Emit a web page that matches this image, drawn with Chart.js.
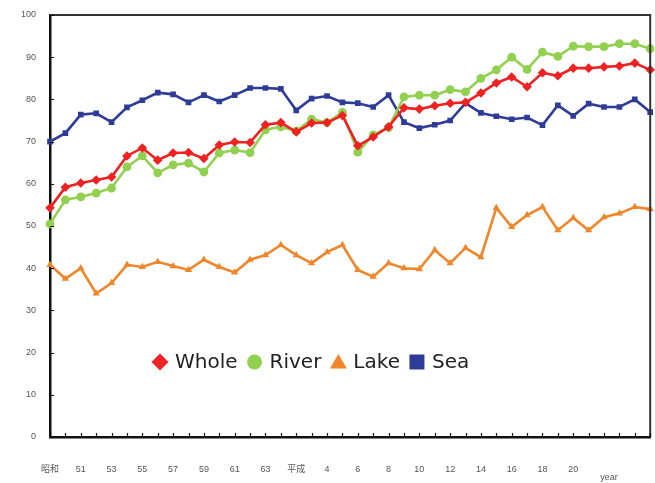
<!DOCTYPE html>
<html>
<head>
<meta charset="utf-8">
<script src="https://cdn.jsdelivr.net/npm/chart.js@4/dist/chart.umd.min.js"></script>
<style>
  html, body { margin: 0; padding: 0; background: #fff; }
  #wrap { width: 655px; height: 483px; }
</style>
</head>
<body>
<div id="wrap"><canvas id="c" width="655" height="483"></canvas></div>
<script>
// Years 昭和49 … 平成25, one category per year
const years = ['昭和','50','51','52','53','54','55','56','57','58','59','60','61','62','63','元',
  '平成','3','4','5','6','7','8','9','10','11','12','13','14','15','16','17','18','19','20','21','22','23','24','25'];
// Labels shown under the axis (every second year, up to 20)
const shownTicks = ['昭和','51','53','55','57','59','61','63','平成','4','6','8','10','12','14','16','18','20'];

const whole = [54.3,59.2,60.2,60.9,61.6,66.6,68.5,65.6,67.3,67.4,66.0,69.2,69.9,69.8,74.0,74.5,72.3,74.4,74.5,76.2,
  69.0,71.1,73.5,78.0,77.7,78.5,79.1,79.3,81.5,83.9,85.3,83.0,86.3,85.6,87.4,87.4,87.7,87.9,88.6,87.0];
const river = [50.5,56.2,56.9,57.8,59.0,64.0,66.6,62.6,64.5,64.9,62.8,67.3,68.0,67.4,72.8,73.5,72.5,75.3,74.5,76.9,
  67.5,71.6,73.3,80.6,81.0,81.0,82.3,81.8,85.0,87.0,90.0,87.1,91.2,90.2,92.6,92.5,92.5,93.2,93.2,92.0];
const lake = [40.8,37.5,40.0,34.0,36.5,40.8,40.3,41.5,40.5,39.6,42.0,40.3,39.0,42.0,43.1,45.5,43.1,41.2,43.8,45.5,
  39.6,38.0,41.2,40.0,39.8,44.3,41.2,44.8,42.6,54.3,49.8,52.6,54.5,49.0,51.9,49.0,52.1,53.0,54.5,54.0];
const sea = [70.0,72.0,76.4,76.7,74.6,78.1,79.8,81.6,81.2,79.3,81.0,79.5,81.0,82.7,82.7,82.5,77.4,80.2,80.8,79.3,
  79.1,78.2,81.0,74.6,73.2,74.0,75.0,79.1,76.8,76.0,75.3,75.7,73.9,78.6,76.1,79.0,78.2,78.2,80.0,77.0];

const seriesNames = ['Whole','River','Lake','Sea'];
const seriesColors = ['#ee2222','#92d050','#f0862a','#2e3c98'];
const seriesPoints = ['rectRot','circle','triangle','rect'];
const seriesValues = [whole, river, lake, sea];
const seriesRadius = [4.8, 4.4, 4.2, 4];

const datasets = seriesValues.map((vals, i) => ({
  label: seriesNames[i],
  data: vals,
  borderColor: seriesColors[i],
  backgroundColor: seriesColors[i],
  pointBackgroundColor: seriesColors[i],
  pointBorderColor: seriesColors[i],
  pointStyle: seriesPoints[i],
  pointRadius: seriesRadius[i],
  pointBorderWidth: 0,
  borderWidth: 2.6,
  tension: 0,
  fill: false
}));

// Frame, inner tick marks and the "year" caption
const framePlugin = {
  id: 'frame',
  afterDraw(chart) {
    const { ctx, chartArea: a, scales } = chart;
    ctx.save();
    ctx.strokeStyle = '#333';
    ctx.lineWidth = 2;
    ctx.beginPath();
    ctx.moveTo(a.left, a.top); ctx.lineTo(a.right, a.top); ctx.lineTo(a.right, a.bottom);
    ctx.stroke();
    ctx.strokeStyle = '#111';
    ctx.lineWidth = 1.2;
    ctx.beginPath();
    scales.y.ticks.forEach(t => {
      const y = Math.round(scales.y.getPixelForValue(t.value)) + 0.5;
      ctx.moveTo(a.left, y); ctx.lineTo(a.left + 4, y);
    });
    years.forEach((_, i) => {
      const x = Math.round(scales.x.getPixelForValue(i)) + 0.5;
      ctx.moveTo(x, a.bottom); ctx.lineTo(x, a.bottom - 4);
    });
    ctx.stroke();
    ctx.fillStyle = '#555';
    ctx.font = '9px "Liberation Sans", Arial, sans-serif';
    ctx.textAlign = 'center';
    ctx.textBaseline = 'middle';
    ctx.fillText('year', 609, 478);
    ctx.restore();
  }
};

// Legend drawn inside the plot area
const innerLegend = {
  id: 'innerLegend',
  afterDraw(chart) {
    const { ctx } = chart;
    ctx.save();
    ctx.font = '20px "DejaVu Sans", Verdana, sans-serif';
    ctx.textBaseline = 'middle';
    const cy = 362;
    let x = 152;
    seriesNames.forEach((name, i) => {
      const c = seriesColors[i];
      const mx = x + 8;
      ctx.fillStyle = c;
      ctx.beginPath();
      if (seriesPoints[i] === 'rectRot') {
        ctx.moveTo(mx, cy - 8.5); ctx.lineTo(mx + 8.5, cy); ctx.lineTo(mx, cy + 8.5); ctx.lineTo(mx - 8.5, cy);
      } else if (seriesPoints[i] === 'circle') {
        ctx.arc(mx, cy, 7.5, 0, Math.PI * 2);
      } else if (seriesPoints[i] === 'triangle') {
        ctx.moveTo(mx, cy - 8); ctx.lineTo(mx + 8.5, cy + 6.5); ctx.lineTo(mx - 8.5, cy + 6.5);
      } else {
        ctx.rect(mx - 7.5, cy - 7.5, 15, 15);
      }
      ctx.closePath();
      ctx.fill();
      ctx.fillStyle = '#222';
      ctx.fillText(name, x + 23, cy + 1);
      x += 23 + ctx.measureText(name).width + 9;
    });
    ctx.restore();
  }
};

new Chart(document.getElementById('c'), {
  type: 'line',
  data: { labels: years, datasets },
  options: {
    responsive: false,
    animation: false,
    layout: { padding: { top: 15, right: 3, left: 0, bottom: 0 } },
    plugins: { legend: { display: false }, tooltip: { enabled: false } },
    scales: {
      x: {
        offset: false,
        grid: { display: false, drawTicks: false },
        border: { display: true, color: '#111', width: 2.5 },
        ticks: {
          autoSkip: false,
          maxRotation: 0,
          padding: 27,
          color: '#555',
          font: { size: 9, family: '"Liberation Sans", Arial, "Noto Sans CJK JP", sans-serif' },
          callback: (v, i) => (i % 2 === 0 && i / 2 < shownTicks.length) ? shownTicks[i / 2] : ''
        },
        afterFit: s => { s.height = 46; s.paddingLeft = 0; s.paddingRight = 0; }
      },
      y: {
        min: 0, max: 100,
        grid: { display: false, drawTicks: false },
        border: { display: true, color: '#111', width: 2.5 },
        ticks: {
          stepSize: 10,
          padding: 14,
          color: '#555',
          font: { size: 9, family: '"Liberation Sans", Arial, sans-serif' }
        },
        afterFit: s => { s.width = 50; s.paddingTop = 0; s.paddingBottom = 0; }
      }
    }
  },
  plugins: [framePlugin, innerLegend]
});
</script>
</body>
</html>
